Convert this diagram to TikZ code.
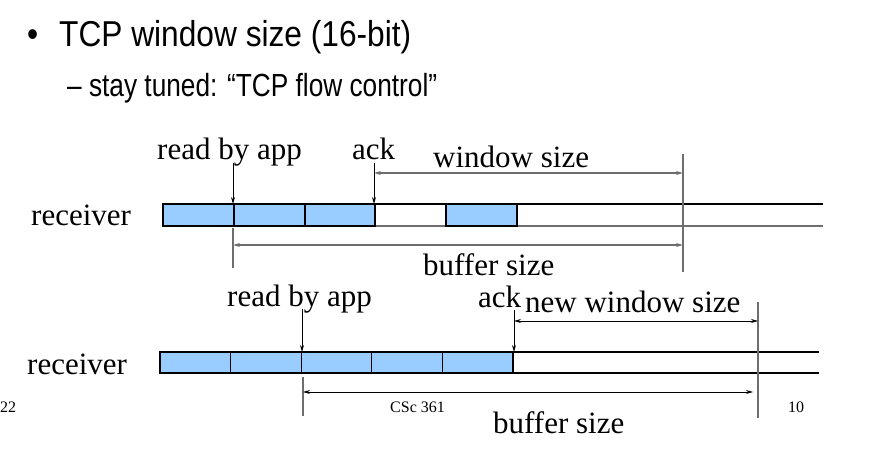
\documentclass[tikz,border=0pt]{standalone}
\usepackage{fontspec}
\setmainfont{Liberation Serif}
\newfontfamily\slidefont[FakeStretch=0.88]{Liberation Sans}
\newfontfamily\subfont[FakeStretch=0.82]{Liberation Sans}
\usetikzlibrary{arrows.meta}
\definecolor{cellblue}{HTML}{99CCFF}
\definecolor{dimgray}{HTML}{6E6E6E}
\tikzset{
  lbl/.style={font=\fontsize{31}{31}\selectfont, inner sep=0pt, anchor=base west},
  small/.style={font=\fontsize{16}{16}\selectfont, inner sep=0pt, anchor=base west},
  slide/.style={font=\slidefont\fontsize{36}{36}\selectfont, inner sep=0pt, anchor=base west},
  cell/.style={draw=black, line width=1.2pt, fill=cellblue},
  pointer/.style={-{Stealth[length=7pt,width=4pt]}, line width=0.8pt},
  dimline/.style={{Stealth[length=7pt,width=4pt]}-{Stealth[length=7pt,width=4pt]}, line width=1.2pt, draw=dimgray},
  rule/.style={line width=1.2pt, draw=dimgray}
}
\begin{document}
\begin{tikzpicture}[x=1pt,y=-1pt]
\useasboundingbox (0,0) rectangle (879,449);
  % Draw slide text
  \node[slide] (bul) at (27,47) {\textbullet};
  \node[slide] (title) at (59,47) {TCP window size (16-bit)};
  \node[slide, font=\subfont\fontsize{32}{32}\selectfont] (sub) at (67,97) {– stay tuned: “TCP flow control”};
  % Draw upper receiver
  \node[lbl] (recA) at (31,226) {receiver};
  \draw[line width=1.2pt] (163,204) -- (823,204);
  \draw[rule] (163,226) -- (823,226);
  \foreach \a/\b in {163/234,234/305,305/375,446/517}
    \draw[cell] (\a,204) rectangle (\b,226);
  \node[lbl] (rdA) at (157,160) {read by app};
  \node[lbl] (ackA) at (352,160) {ack};
  \node[lbl] (winA) at (433,168) {window size};
  \node[lbl] (bufA) at (423,276) {buffer size};
  \coordinate (rdAtop) at (233,163);
  \coordinate (rdAbot) at (233,204);
  \coordinate (ackAtop) at (374,163);
  \coordinate (ackAbot) at (374,204);
  \coordinate (endAtop) at (683,154);
  \coordinate (endAbot) at (683,272);
  \coordinate (startAtop) at (233,228);
  \coordinate (startAbot) at (233,268);
  \draw[pointer] (rdAtop) -- (rdAbot);
  \draw[pointer] (ackAtop) -- (ackAbot);
  \draw[rule] (endAtop) -- (endAbot);
  \draw[rule] (startAtop) -- (startAbot);
  \draw[dimline] (ackAbot |- 0,173) -- (endAtop |- 0,173);
  \draw[dimline] (startAtop |- 0,245) -- (endAtop |- 0,245);
  % Draw lower receiver
  \node[lbl] (recB) at (27,374) {receiver};
  \draw[line width=1.2pt] (160,352) -- (819,352);
  \draw[line width=1.2pt] (160,373) -- (819,373);
  \foreach \a in {160,230.6,301.2,371.8,442.4}
    \draw[cell] (\a,352) rectangle ++(70.6,21);
  \node[lbl] (rdB) at (227,307) {read by app};
  \node[lbl] (ackB) at (478,308) {ack};
  \node[lbl] (winB) at (525,313) {new window size};
  \node[lbl] (bufB) at (493,433) {buffer size};
  \coordinate (rdBtop) at (302,309);
  \coordinate (rdBbot) at (302,352);
  \coordinate (ackBtop) at (514,310);
  \coordinate (ackBbot) at (514,352);
  \coordinate (endBtop) at (758,302);
  \coordinate (endBbot) at (758,418);
  \coordinate (startBtop) at (303,377);
  \coordinate (startBbot) at (303,416);
  \draw[pointer] (rdBtop) -- (rdBbot);
  \draw[pointer] (ackBtop) -- (ackBbot);
  \draw[rule] (endBtop) -- (endBbot);
  \draw[rule] (startBtop) -- (startBbot);
  \draw[dimline, draw=black, line width=0.8pt] (ackBbot |- 0,321) -- (endBtop |- 0,321);
  \draw[dimline, draw=black, line width=0.8pt] (startBtop |- 0,392) -- (753,392);
  % Draw footer
  \node[small] (csc) at (390,412) {CSc 361};
  \node[small] (pgl) at (0,412) {22};
  \node[small] (pgr) at (788,412) {10};
\end{tikzpicture}
\end{document}
